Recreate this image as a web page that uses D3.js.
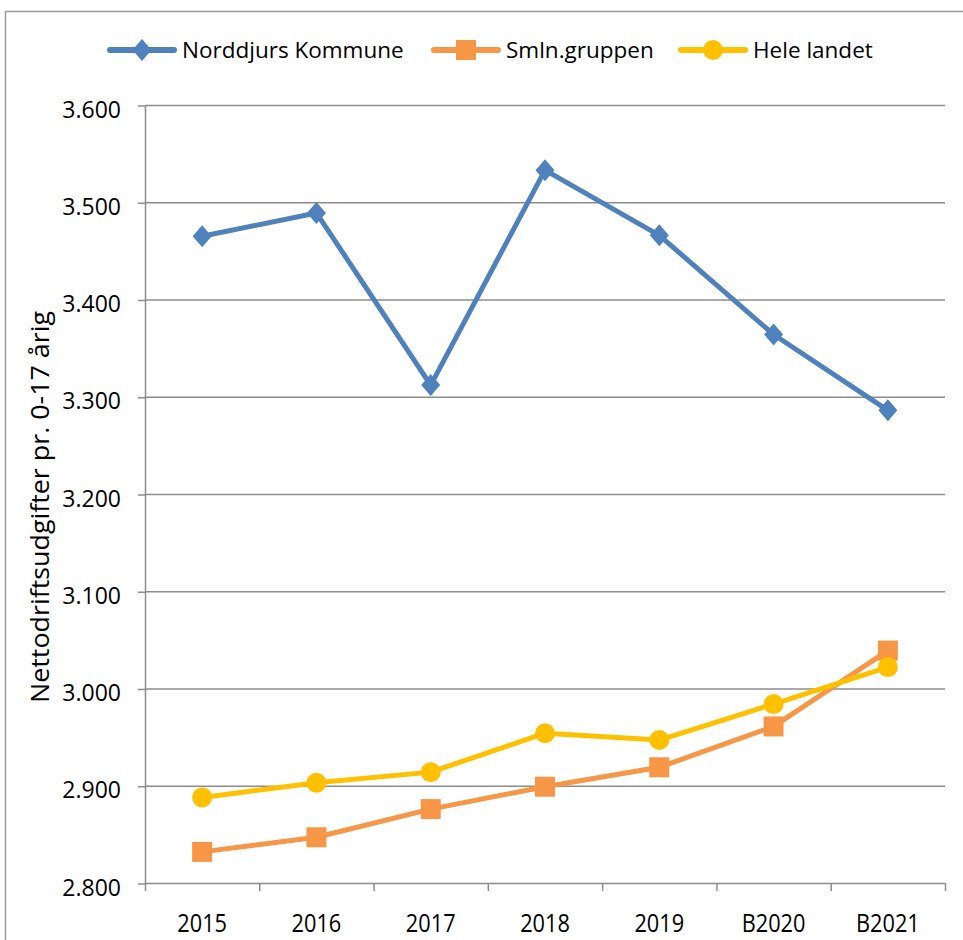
<!DOCTYPE html>
<html>
<head>
<meta charset="utf-8">
<script src="https://cdn.jsdelivr.net/npm/d3@7"></script>
<style>
  body { margin: 0; background: #fff; }
  text { font-family: "Open Sans", sans-serif; fill: #000; }
</style>
</head>
<body>
<svg id="chart" width="963" height="940"></svg>
<script>
// categories and series
var years = ["2015", "2016", "2017", "2018", "2019", "B2020", "B2021"];
var norddjurs = [3465, 3489, 3312, 3533, 3466, 3364, 3286];
var smln = [2832, 2847, 2876, 2899, 2919, 2961, 3039];
var hele = [2888, 2903, 2914, 2954, 2947, 2984, 3022];
var yTicks = [2800, 2900, 3000, 3100, 3200, 3300, 3400, 3500, 3600];

var series = [
    { name: "Norddjurs Kommune", values: norddjurs, color: "#4f81bd", marker: "diamond" },
    { name: "Smln.gruppen", values: smln, color: "#f79646", marker: "square" },
    { name: "Hele landet", values: hele, color: "#ffc000", marker: "circle" }
];

var svg = d3.select("#chart");
var plotLeft = 145, plotRight = 945, plotTop = 105, plotBottom = 883;
var axisColor = "#8c8c8c";

// outer frame
svg.append("rect")
    .attr("x", 5.5).attr("y", 11.5)
    .attr("width", 970).attr("height", 940)
    .attr("fill", "none").attr("stroke", "#9a9a9a").attr("stroke-width", 1.5);

var x = d3.scaleBand().domain(years).range([plotLeft, plotRight]);
var y = d3.scaleLinear().domain([2800, 3600]).range([plotBottom, plotTop]);

// gridlines
svg.append("g").selectAll("line")
    .data(yTicks.slice(1))
    .enter().append("line")
    .attr("x1", plotLeft).attr("x2", plotRight)
    .attr("y1", function(d) { return y(d) + 0.5; })
    .attr("y2", function(d) { return y(d) + 0.5; })
    .attr("stroke", axisColor).attr("stroke-width", 1.5);

var yAxis = svg.append("g")
    .attr("transform", "translate(" + plotLeft + ",0.5)")
    .call(d3.axisLeft(y).tickValues(yTicks).tickSize(7).tickSizeOuter(0).tickPadding(17)
        .tickFormat(function(d) { return d3.format(",")(d).replace(",", "."); }));
yAxis.selectAll("text")
    .attr("font-size", "23px")
    .attr("font-family", "Open Sans")
    .attr("dy", "0.5em");
yAxis.selectAll("line").attr("stroke", axisColor).attr("stroke-width", 1.5);
yAxis.select(".domain").attr("stroke", axisColor).attr("stroke-width", 1.5);

var xAxis = svg.append("g")
    .attr("transform", "translate(0," + plotBottom + ")")
    .call(d3.axisBottom(x).tickSize(0).tickPadding(31));
xAxis.select(".domain").remove();
xAxis.selectAll("text")
    .attr("font-size", "25px")
    .attr("font-family", "Open Sans")
    .attr("transform", "scale(0.87,1)");

// x axis line and ticks at band boundaries
svg.append("line")
    .attr("x1", plotLeft).attr("x2", plotRight)
    .attr("y1", plotBottom + 0.5).attr("y2", plotBottom + 0.5)
    .attr("stroke", axisColor).attr("stroke-width", 1.5);
svg.append("g").selectAll("line")
    .data(years.concat(["end"]))
    .enter().append("line")
    .attr("x1", function(d, i) { return plotLeft + i * x.step() + 0.5; })
    .attr("x2", function(d, i) { return plotLeft + i * x.step() + 0.5; })
    .attr("y1", plotBottom).attr("y2", plotBottom + 8)
    .attr("stroke", axisColor).attr("stroke-width", 1.5);

svg.append("text")
    .attr("transform", "translate(49,507) rotate(-90)")
    .attr("text-anchor", "middle")
    .attr("font-size", "26px")
    .attr("textLength", 392)
    .attr("lengthAdjust", "spacingAndGlyphs")
    .text("Nettodriftsudgifter pr. 0-17 årig");

function drawMarker(g, type, color) {
    if (type === "diamond") {
        g.append("path").attr("d", "M0,-11L9.5,0L0,11L-9.5,0Z").attr("fill", color);
    } else if (type === "square") {
        g.append("rect").attr("x", -10).attr("y", -10).attr("width", 20).attr("height", 20).attr("fill", color);
    } else {
        g.append("circle").attr("r", 10).attr("fill", color);
    }
}

var line = d3.line()
    .x(function(d, i) { return x(years[i]) + x.bandwidth() / 2; })
    .y(function(d) { return y(d); });

series.forEach(function(s) {
    var g = svg.append("g");
    g.append("path")
        .attr("d", line(s.values))
        .attr("fill", "none")
        .attr("stroke", s.color)
        .attr("stroke-width", 5)
        .attr("stroke-linejoin", "round");
    s.values.forEach(function(v, i) {
        var m = g.append("g")
            .attr("transform", "translate(" + (x(years[i]) + x.bandwidth() / 2) + "," + y(v) + ")");
        drawMarker(m, s.marker, s.color);
    });
});

// legend
var legendPos = [110, 434, 681];
series.forEach(function(s, i) {
    var g = svg.append("g").attr("transform", "translate(" + legendPos[i] + ",50)");
    g.append("line").attr("x1", 0).attr("x2", 64).attr("y1", 0).attr("y2", 0)
        .attr("stroke", s.color).attr("stroke-width", 6).attr("stroke-linecap", "round");
    drawMarker(g.append("g").attr("transform", "translate(32,0)"), s.marker, s.color);
    g.append("text").attr("x", 72).attr("y", 8).attr("font-size", "22.5px").text(s.name);
});
</script>
</body>
</html>
